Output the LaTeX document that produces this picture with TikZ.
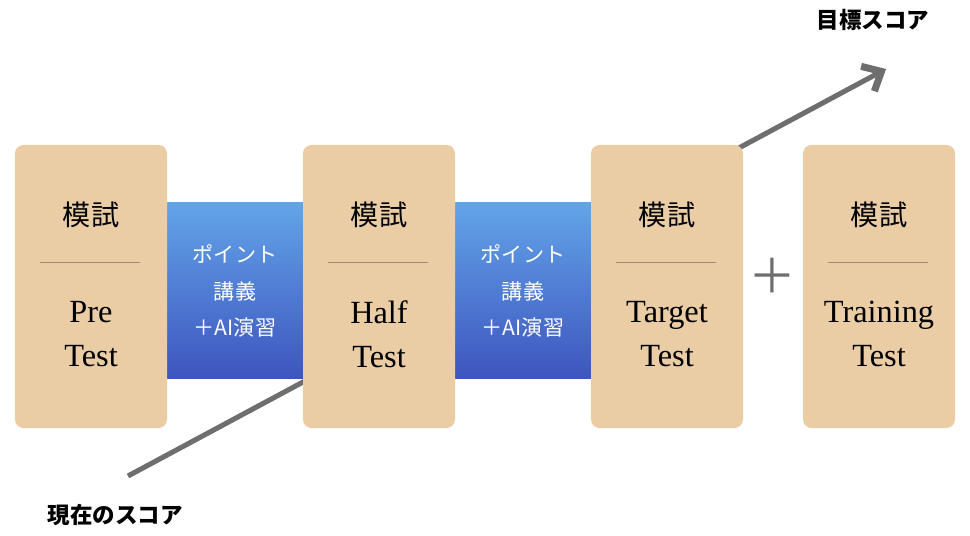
\documentclass[tikz,border=0pt]{standalone}
\usepackage{fontspec}
\setmainfont{Liberation Serif}
\newfontfamily\jpfont{Noto Sans CJK JP}
\usetikzlibrary{arrows.meta}
\definecolor{boxfill}{HTML}{EACDA5}
\definecolor{rulecol}{HTML}{A08C78}
\definecolor{bluetop}{HTML}{62A4E8}
\definecolor{bluebot}{HTML}{3E55BF}
\definecolor{arrowgray}{HTML}{6E6E6E}
\tikzset{
    exam/.style={fill=boxfill, rounded corners=6pt},
    lecture/.style={top color=bluetop, bottom color=bluebot},
    head/.style={font=\jpfont\fontsize{20}{24}\selectfont},
    title/.style={font=\fontsize{23}{31}\selectfont, align=center},
    lect/.style={text=white, font=\jpfont\fontsize{15}{26}\selectfont, align=center},
    score/.style={font=\jpfont\bfseries\fontsize{16}{20}\selectfont}
}
\begin{document}
\begin{tikzpicture}[x=0.025cm, y=-0.025cm]
\useasboundingbox (0,0) rectangle (970,536);
% score arrow behind everything
\draw[arrowgray, line width=3.6pt, -{Straight Barb[length=11pt, width=20pt, line width=5pt]}]
    (128,476) coordinate (now) -- (886,69) coordinate (goal);
% lecture bands
\shade[lecture] (167,203) rectangle (303,378);
\shade[lecture] (455,203) rectangle (591,378);
\node[lect] (l1) at (235,291) {ポイント\\講義\\＋AI演習};
\node[lect] (l2) at (523,291) {ポイント\\講義\\＋AI演習};
% exam boxes
\foreach \x/\name/\txt in {15/pre/Pre\\Test, 303/half/Half\\Test, 591/target/Target\\Test, 803/train/Training\\Test}
{
    \fill[exam] (\x,145) rectangle ++(152,283);
    \node[head] (\name-h) at (\x+76,215) {模試};
    \draw[rulecol, line width=0.7pt] (\x+25,262) -- (\x+125,262);
    \node[title] (\name-t) at (\x+76,334) {\txt};
}
\node[text=arrowgray, font=\jpfont\fontsize{34}{34}\selectfont] (plus) at (772,276) {＋};
\node[score] (goal-l) at (873,20) {目標スコア};
\node[score] (now-l) at (115,515) {現在のスコア};
\end{tikzpicture}
\end{document}
